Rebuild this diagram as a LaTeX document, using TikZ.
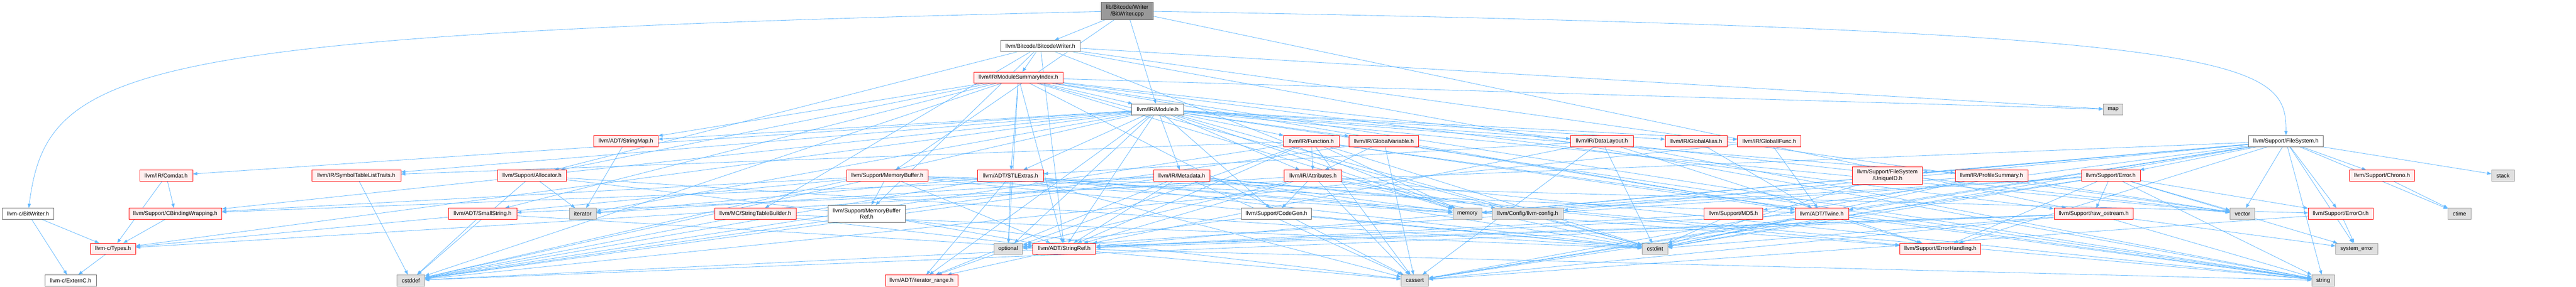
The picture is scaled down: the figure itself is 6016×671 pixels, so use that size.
\documentclass[tikz,border=0pt]{standalone}
\usepackage{fontspec}
\setmainfont{Liberation Sans}
\usetikzlibrary{arrows.meta}
\pgfdeclarelayer{bg}
\pgfsetlayers{bg,main}
\definecolor{edgec}{HTML}{63B8FF}
\definecolor{redfill}{HTML}{FFF0F0}
\definecolor{redline}{HTML}{FF0000}
\definecolor{grayfill}{HTML}{E0E0E0}
\definecolor{grayline}{HTML}{999999}
\definecolor{whiteline}{HTML}{666666}
\definecolor{rootfill}{HTML}{999999}
\tikzset{
  box/.style={rectangle, inner sep=0pt, minimum height=25.8pt, font=\fontsize{13.1}{15.5}\selectfont, line width=1pt, text=black, align=center},
  redbox/.style={box, draw=redline, fill=redfill},
  whitebox/.style={box, draw=whiteline, fill=white},
  graybox/.style={box, draw=grayline, fill=grayfill},
  rootbox/.style={box, draw=whiteline, fill=rootfill},
  edge/.style={draw=edgec, line width=1pt, -{Triangle[length=10pt,width=7.5pt]}}
}
\begin{document}
\begin{tikzpicture}[x=1pt,y=-1pt]
\useasboundingbox (0,0) rectangle (6016,671);
% row 0-3
\node[rootbox, minimum width=121pt, minimum height=41pt] (root) at (2632.5,25.5) {lib/Bitcode/Writer\\/BitWriter.cpp};
\node[whitebox, minimum width=185pt] (bcw) at (2429.5,107.5) {llvm/Bitcode/BitcodeWriter.h};
\node[redbox, minimum width=209pt] (msi) at (2378.5,181.5) {llvm/IR/ModuleSummaryIndex.h};
\node[whitebox, minimum width=121pt] (module) at (2703.5,256) {llvm/IR/Module.h};
\node[graybox, minimum width=46pt] (map) at (4935,256) {map};
% row 4
\node[redbox, minimum width=151pt] (stringmap) at (1461.5,330) {llvm/ADT/StringMap.h};
\node[redbox, minimum width=129pt] (function) at (3062.5,330) {llvm/IR/Function.h};
\node[redbox, minimum width=162pt] (globalvar) at (3232,330) {llvm/IR/GlobalVariable.h};
\node[redbox, minimum width=146pt] (datalayout) at (3741,330) {llvm/IR/DataLayout.h};
\node[redbox, minimum width=145pt] (globalalias) at (3961.5,330) {llvm/IR/GlobalAlias.h};
\node[redbox, minimum width=148pt] (globalifunc) at (4132,330) {llvm/IR/GlobalIFunc.h};
\node[whitebox, minimum width=175pt] (filesystem) at (5338.5,330) {llvm/Support/FileSystem.h};
% row 5
\node[redbox, minimum width=124pt] (comdat) at (388,411) {llvm/IR/Comdat.h};
\node[redbox, minimum width=208pt] (symtab) at (832,411) {llvm/IR/SymbolTableListTraits.h};
\node[redbox, minimum width=161pt] (allocator) at (1242.5,411) {llvm/Support/Allocator.h};
\node[redbox, minimum width=190pt] (membuf) at (2072,411) {llvm/Support/MemoryBuffer.h};
\node[redbox, minimum width=154pt] (stlextras) at (2360,411) {llvm/ADT/STLExtras.h};
\node[redbox, minimum width=132pt] (metadata) at (2760,411) {llvm/IR/Metadata.h};
\node[redbox, minimum width=135pt] (attributes) at (3066.5,411) {llvm/IR/Attributes.h};
\node[redbox, minimum width=164pt, minimum height=41pt] (uniqueid) at (4408,410.5) {llvm/Support/FileSystem\\/UniqueID.h};
\node[redbox, minimum width=170pt] (profsum) at (4651,411) {llvm/IR/ProfileSummary.h};
\node[redbox, minimum width=137pt] (error) at (4929.5,411) {llvm/Support/Error.h};
\node[redbox, minimum width=152pt] (chrono) at (5563,411) {llvm/Support/Chrono.h};
\node[graybox, minimum width=53pt] (stack) at (5845.5,411) {stack};
% row 6
\node[whitebox, minimum width=121pt] (bw) at (65.5,500) {llvm-c/BitWriter.h};
\node[redbox, minimum width=217pt] (cbinding) at (409.5,500) {llvm/Support/CBindingWrapping.h};
\node[redbox, minimum width=160pt] (smallstring) at (1127,500) {llvm/ADT/SmallString.h};
\node[graybox, minimum width=62pt] (iterator) at (1361,500) {iterator};
\node[redbox, minimum width=190pt] (stbuilder) at (1764,500) {llvm/MC/StringTableBuilder.h};
\node[whitebox, minimum width=180pt, minimum height=40pt] (membufref) at (2024,500) {llvm/Support/MemoryBuffer\\Ref.h};
\node[whitebox, minimum width=164pt] (codegen) at (2981,500) {llvm/Support/CodeGen.h};
\node[graybox, minimum width=68pt] (memory) at (3427,500) {memory};
\node[graybox, minimum width=166pt] (llvmconfig) at (3568,500) {llvm/Config/llvm-config.h};
\node[redbox, minimum width=138pt] (md5) at (4048,500) {llvm/Support/MD5.h};
\node[redbox, minimum width=125pt] (twine) at (4254.5,500) {llvm/ADT/Twine.h};
\node[redbox, minimum width=185pt] (rawostream) at (4889.5,500) {llvm/Support/raw\_ostream.h};
\node[graybox, minimum width=58pt] (vector) at (5237,500) {vector};
\node[redbox, minimum width=151pt] (erroror) at (5466.5,500) {llvm/Support/ErrorOr.h};
\node[graybox, minimum width=54pt] (ctime) at (5744,500) {ctime};
% row 7
\node[redbox, minimum width=106pt] (types) at (264,582) {llvm-c/Types.h};
\node[graybox, minimum width=67pt] (optional) at (2354.5,582) {optional};
\node[redbox, minimum width=147pt] (stringref) at (2485.5,582) {llvm/ADT/StringRef.h};
\node[graybox, minimum width=60pt] (cstdint) at (3865,582) {cstdint};
\node[redbox, minimum width=189pt] (errhandling) at (4531.5,582) {llvm/Support/ErrorHandling.h};
\node[graybox, minimum width=98pt] (syserror) at (5504,582) {system\_error};
% row 8
\node[whitebox, minimum width=120pt] (externc) at (165,656) {llvm-c/ExternC.h};
\node[graybox, minimum width=65pt] (cstddef) at (959.5,656) {cstddef};
\node[redbox, minimum width=170pt] (iterrange) at (2152,656) {llvm/ADT/iterator\_range.h};
\node[graybox, minimum width=64pt] (cassert) at (3304,656) {cassert};
\node[graybox, minimum width=53pt] (string) at (5425.5,656) {string};

\begin{pgfonlayer}{bg}
\draw[edge] (root) .. controls (300,80) and (110,150) .. (bw);
\draw[edge] (root) .. controls (5250,70) and (5340,140) .. (filesystem);
\foreach \a/\b in {root/bcw, root/module, root/membuf, root/rawostream,
  bw/externc, bw/types, types/externc,
  bcw/stringref, bcw/msi, bcw/stbuilder, bcw/allocator, bcw/membufref, bcw/map, bcw/memory, bcw/string, bcw/vector,
  msi/stlextras, msi/smallstring, msi/stringmap, msi/stringref, msi/twine, msi/module, msi/allocator, msi/rawostream,
  msi/cassert, msi/cstddef, msi/cstdint, msi/map, msi/memory, msi/optional, msi/string, msi/vector,
  module/types, module/stlextras, module/stringmap, module/stringref, module/iterrange, module/attributes, module/comdat,
  module/datalayout, module/function, module/globalalias, module/globalifunc, module/globalvar, module/metadata,
  module/profsum, module/symtab, module/cbinding, module/codegen, module/cstddef, module/cstdint, module/iterator,
  module/memory, module/optional, module/string, module/vector,
  stringmap/iterator,
  function/iterrange, function/stringref, function/twine, function/attributes, function/symtab, function/cassert,
  function/cstddef, function/cstdint, function/memory, function/string,
  globalvar/twine, globalvar/attributes, globalvar/cassert, globalvar/cstddef,
  datalayout/stlextras, datalayout/stringref, datalayout/errhandling, datalayout/cassert, datalayout/cstdint, datalayout/string,
  globalalias/twine, globalifunc/twine, globalifunc/cstddef,
  filesystem/smallstring, filesystem/stringref, filesystem/twine, filesystem/llvmconfig, filesystem/chrono, filesystem/error,
  filesystem/errhandling, filesystem/erroror, filesystem/uniqueid, filesystem/md5, filesystem/cassert, filesystem/cstdint,
  filesystem/ctime, filesystem/memory, filesystem/stack, filesystem/string, filesystem/syserror, filesystem/vector,
  comdat/types, comdat/cbinding, symtab/cstddef,
  allocator/cassert, allocator/cstddef, allocator/cstdint, allocator/iterator,
  membuf/types, membuf/stringref, membuf/twine, membuf/cbinding, membuf/erroror, membuf/membufref, membuf/cstddef,
  membuf/cstdint, membuf/memory,
  stlextras/iterator, stlextras/iterrange, stlextras/errhandling, stlextras/cassert, stlextras/cstddef, stlextras/cstdint,
  stlextras/memory, stlextras/optional,
  metadata/stringref, metadata/iterrange, metadata/cbinding, metadata/errhandling, metadata/cassert, metadata/cstddef,
  metadata/cstdint, metadata/iterator, metadata/memory, metadata/string,
  attributes/types, attributes/stringref, attributes/llvmconfig, attributes/codegen, attributes/cassert, attributes/cstdint,
  attributes/optional, attributes/string,
  uniqueid/cstdint,
  profsum/cassert, profsum/cstdint, profsum/memory, profsum/vector,
  error/errhandling, error/erroror, error/rawostream, error/cassert, error/cstdint, error/memory, error/optional,
  error/string, error/syserror, error/vector,
  chrono/ctime, cbinding/types,
  smallstring/stringref, smallstring/cstddef,
  stbuilder/stringref, stbuilder/cstddef, stbuilder/cstdint,
  membufref/stringref, codegen/cstdint, codegen/optional,
  md5/stringref, md5/cstdint,
  twine/stringref, twine/errhandling, twine/cassert, twine/cstdint, twine/string,
  rawostream/stringref, rawostream/cassert, rawostream/cstddef, rawostream/cstdint, rawostream/optional,
  rawostream/string, rawostream/syserror,
  erroror/cassert, erroror/syserror,
  stringref/iterrange, stringref/cassert, stringref/cstddef, stringref/string}
  \draw[edge] (\a) -- (\b);
\end{pgfonlayer}
\end{tikzpicture}
\end{document}
